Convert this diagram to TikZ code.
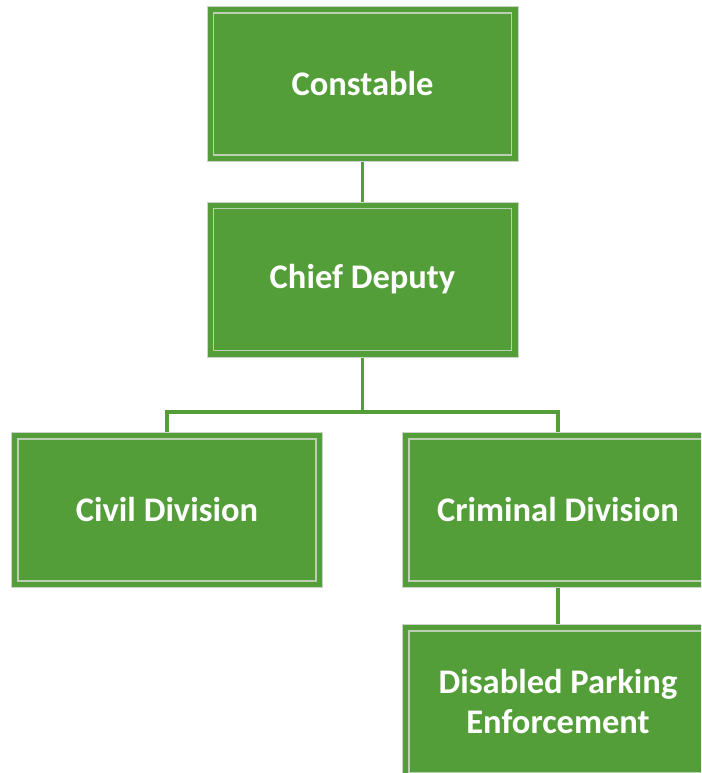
\documentclass[tikz,border=0pt]{standalone}
\usepackage{fontspec}
\setmainfont{Carlito}
\usetikzlibrary{backgrounds}
\definecolor{boxgreen}{RGB}{84,158,57}
\definecolor{rimgrey}{RGB}{205,210,203}
\definecolor{framegrey}{RGB}{188,206,180}
\tikzset{
  orgbox/.style={rectangle, fill=boxgreen, draw=rimgrey, line width=1pt,
    minimum width=311pt, minimum height=155pt, inner sep=0pt,
    text=white, font=\bfseries\fontsize{34.5}{40}\selectfont, align=center},
  link/.style={draw=boxgreen, line width=3.5pt},
  frame/.style={draw=framegrey, line width=1.2pt}
}
\begin{document}
\begin{tikzpicture}[x=1pt,y=-1pt]
\useasboundingbox (0,0) rectangle (701,773);
\clip (0,0) rectangle (701,773);
\node[orgbox] (const) at (362.5,84) {Constable};
\node[orgbox] (chief) at (362.5,279.5) {Chief Deputy};
\node[orgbox] (civil) at (167,510) {Civil Division};
\node[orgbox] (crim) at (558,510) {Criminal Division};
\node[orgbox] (park) at (558,702) {Disabled Parking\\Enforcement};
% inner frame lines of every box
\foreach \n in {const,chief,civil,crim,park}
  \draw[frame] ([shift={(7,7)}]\n.north west) rectangle ([shift={(-7,-7)}]\n.south east);
\coordinate (bus) at (362.5,412);
\begin{scope}[on background layer]
  \draw[link] (const.south) -- (chief.north);
  \draw[link] (chief.south) -- (bus);
  \draw[link] (civil.north) |- (bus) -| (crim.north);
  \draw[link] (crim.south) -- (park.north);
\end{scope}
\end{tikzpicture}
\end{document}
